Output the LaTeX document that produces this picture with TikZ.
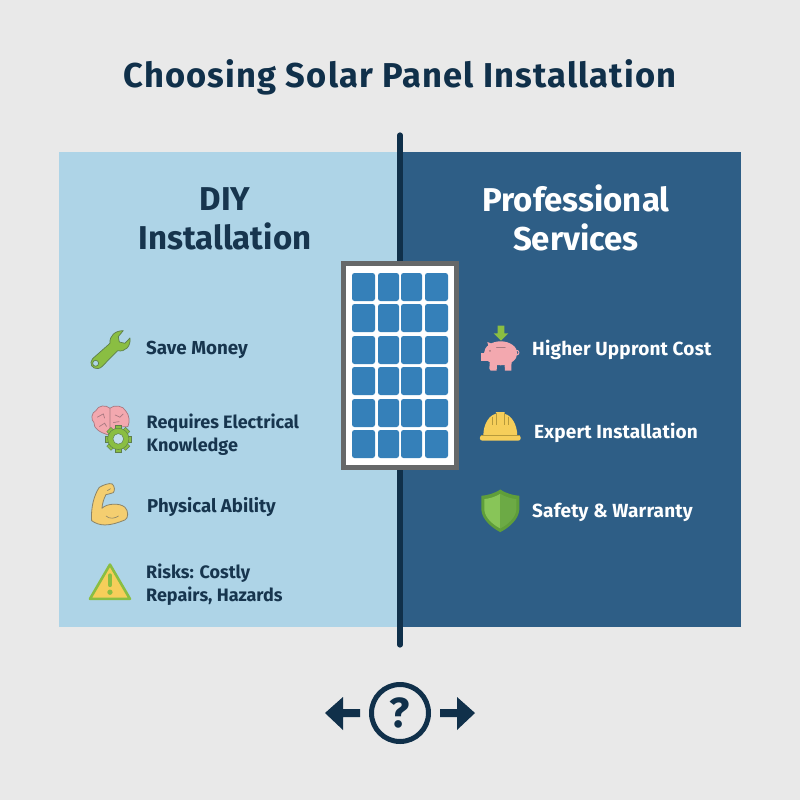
\documentclass[tikz,border=0pt]{standalone}
\usepackage{fontspec}
\setmainfont{Fira Sans}
\definecolor{bgc}{HTML}{E9E9E9}
\definecolor{inkc}{HTML}{10304A}
\definecolor{labc}{HTML}{17354E}
\definecolor{leftc}{HTML}{AED4E7}
\definecolor{rightc}{HTML}{2E5E86}
\definecolor{cellc}{HTML}{3580B9}
\definecolor{framec}{HTML}{666869}
\definecolor{leafc}{HTML}{8ABE42}
\definecolor{leafline}{HTML}{5E7F4C}
\definecolor{pinkc}{HTML}{F3A8AF}
\definecolor{pinkline}{HTML}{A87880}
\definecolor{yelc}{HTML}{F6CE5A}
\definecolor{armc}{HTML}{F4CE70}
\definecolor{armline}{HTML}{8B8468}
\definecolor{ribc}{HTML}{B79A3C}
\definecolor{shieldd}{HTML}{5F9E3A}
\definecolor{shieldm}{HTML}{6CAA45}
\definecolor{shieldl}{HTML}{88C558}
\tikzset{
  head/.style={font=\bfseries\fontsize{33}{38.5}\selectfont,align=center,inner sep=0pt},
  lab/.style={font=\bfseries\fontsize{18}{23}\selectfont,align=left,anchor=west,inner sep=0pt},
  labwide/.style={font=\bfseries\fontsize{18.6}{23}\selectfont,align=left,anchor=west,inner sep=0pt},
  dark/.style={lab,text=labc},
  darkwide/.style={labwide,text=labc},
  light/.style={font=\bfseries\fontsize{19}{23}\selectfont\addfontfeature{LetterSpace=1},align=left,anchor=west,inner sep=0pt,text=white},
  cell/.style={fill=cellc,rounded corners=2.5pt},
  zoomone/.style={shift={(70,310)},x=0.333pt,y=-0.333pt},
  zoomtwo/.style={shift={(70,470)},x=0.333pt,y=-0.333pt},
  zoomthree/.style={shift={(470,310)},x=0.333pt,y=-0.333pt},
}
\begin{document}
\begin{tikzpicture}[x=1pt,y=-1pt]
\useasboundingbox (0,0) rectangle (800,800);
\fill[bgc] (0,0) rectangle (800,800);
\fill[leftc] (59,152) rectangle (399,627);
\fill[rightc] (401,152) rectangle (741,627);
\draw[inkc,line width=5.2pt,line cap=round] (400,135) -- (400,645);

\node[font=\bfseries\fontsize{34.5}{38}\selectfont\addfontfeature{LetterSpace=3.3},text=inkc,inner sep=0pt] (title) at (400,77) {Choosing Solar Panel Installation};
\node[head,text=labc] (diy) at (225,219) {DIY\\Installation};
\node[head,text=white] (pro) at (576,218) {Professional\\Services};

% solar panel
\draw[framec,fill=white,line width=5pt] (343.5,263.5) rectangle (456.5,467.5);
\foreach \ya/\yb in {273/301,304/332,336/364,367/395,399/427,430/458}{
  \foreach \xa/\xb in {352/375,378/399,401/422,425/448}{
    \fill[cell] (\xa,\ya) rectangle (\xb,\yb);
  }
}

% wrench
\begin{scope}[zoomone]
\draw[fill=leafc,draw=leafline,line width=0.7pt,line join=round,even odd rule]
 (160,62) .. controls (135,62) and (118,78) .. (120,100) -- (68,146)
 .. controls (56,160) and (66,178) .. (84,176) .. controls (90,176) and (94,172) .. (98,168)
 -- (143,122) .. controls (165,128) and (184,108) .. (180,84) -- (165,100) -- (148,96) -- (145,80) -- cycle
 (77,160) circle[radius=9];
\end{scope}
\node[dark] (save) at (146,350) {\fontsize{18.8}{23}\selectfont Save Money};

% brain with gear
\begin{scope}[zoomone]
\draw[fill=pinkc,draw=pinkline,line width=0.7pt,line join=round]
 (120,295) .. controls (108,284) and (84,286) .. (78,302)
 .. controls (64,308) and (62,330) .. (72,338)
 .. controls (70,356) and (90,368) .. (118,376)
 -- (140,352) -- (174,350)
 .. controls (180,335) and (178,315) .. (168,304)
 .. controls (160,286) and (132,284) .. (120,295) -- cycle;
\draw[pinkline,line width=0.7pt]
 (120,295) -- (120,360)
 (82,322) -- (100,312) -- (104,325)
 (88,350) -- (104,340) -- (110,350)
 (135,315) -- (150,322) -- (160,312)
 (130,338) -- (148,335);
\foreach \a in {0,45,...,315}{
  \fill[leafc,draw=leafline,line width=0.4pt,rotate around={\a:(145,387)}] (136,347) rectangle (154,360);
}
\draw[fill=leafc,draw=leafline,line width=0.5pt] (145,387) circle[radius=32];
\draw[fill=leftc!75!white,draw=leafline,line width=0.5pt] (145,387) circle[radius=16];
\end{scope}
\node[dark] (know) at (146.5,435) {Requires Electrical\\Knowledge};

% flexed arm
\begin{scope}[zoomtwo]
\draw[fill=armc,draw=armline,line width=0.8pt,line join=round]
 (65,152) .. controls (62,115) and (72,75) .. (88,52) .. controls (100,45) and (118,38) .. (127,42)
 .. controls (135,50) and (135,62) .. (130,68) .. controls (122,72) and (112,72) .. (108,74)
 .. controls (102,85) and (97,100) .. (96,115) .. controls (110,100) and (150,98) .. (165,112)
 .. controls (176,122) and (176,145) .. (165,150) .. controls (145,158) and (125,165) .. (105,165)
 .. controls (90,165) and (75,160) .. (65,152) -- cycle;
\draw[armline,line width=0.6pt] (108,138) .. controls (118,148) and (135,146) .. (146,138)
 (112,62) -- (122,56);
\end{scope}
\node[darkwide] (phys) at (147,507.5) {Physical Ability};

% warning
\begin{scope}[zoomtwo]
\draw[fill=yelc,draw=leafc,line width=2.6pt,line join=round] (120,284) -- (180,387) -- (60,387) -- cycle;
\draw[leafc,line width=4.4pt,line cap=round] (120,317) -- (120,345);
\fill[leafc] (120,367) circle[radius=8];
\end{scope}
\node[dark] (risk) at (146,585) {Risks: Costly\\Repairs, Hazards};

% piggy bank
\begin{scope}[zoomthree]
\fill[leafc] (83,47) -- (103,47) -- (103,70) -- (115,70) -- (93,92) -- (71,70) -- (83,70) -- cycle;
\fill[pinkc] (58,176) -- (60,150) -- (82,150) -- (80,182) -- (62,182) -- cycle
 (105,182) -- (103,150) -- (125,150) -- (124,182) -- cycle;
\fill[pinkc] (52,96) -- (75,105) -- (60,125) -- cycle;
\fill[pinkc] (92,130) ellipse[x radius=50,y radius=36];
\fill[pinkc] (34,128) rectangle (60,152);
\draw[pinkc,line width=1pt] (140,128) circle[radius=7];
\draw[pinkline,line width=1.2pt,line cap=round] (80,112) -- (105,112);
\fill[pinkline] (60,123) circle[radius=3];
\end{scope}
\node[light] (cost) at (532,350) {Higher Uppront Cost};

% helmet
\begin{scope}[zoomthree]
\fill[yelc] (40,378) .. controls (40,340) and (60,314) .. (78,312) -- (78,307) -- (104,307) -- (104,312)
 .. controls (125,316) and (142,345) .. (142,378) -- cycle;
\fill[yelc,rounded corners=2pt] (30,377) rectangle (152,392);
\draw[ribc,line width=0.9pt] (66,320) -- (66,345) (78,310) -- (78,345) (104,310) -- (104,345) (116,320) -- (116,345) (32,378) -- (150,378);
\end{scope}
\node[light] (expert) at (534,433) {Expert Installation};

% shield
\begin{scope}[zoomthree]
\fill[shieldd] (91,539) .. controls (110,552) and (130,556) .. (148,558) -- (148,600)
 .. controls (146,630) and (115,655) .. (91,667) .. controls (67,655) and (36,630) .. (34,600) -- (34,558)
 .. controls (52,556) and (72,552) .. (91,539) -- cycle;
\fill[shieldl] (91,552) .. controls (75,562) and (58,566) .. (43,568) -- (43,600)
 .. controls (45,625) and (70,645) .. (91,656) -- cycle;
\fill[shieldm] (91,552) .. controls (107,562) and (124,566) .. (139,568) -- (139,600)
 .. controls (137,625) and (112,645) .. (91,656) -- cycle;
\end{scope}
\node[light] (safety) at (532,512) {Safety \& Warranty};

% question and arrows
\node[circle,draw=inkc,line width=5pt,minimum size=57pt,inner sep=0pt,text=inkc,font=\bfseries\fontsize{42}{42}\selectfont] (ask) at (400,713) {?};
\coordinate (lefttip) at (325,713);
\coordinate (righttip) at (475,713);
\fill[inkc] (lefttip) -- (343,697) -- (343,709) -- (360,709) -- (360,717) -- (343,717) -- (343,730) -- cycle;
\fill[inkc] (righttip) -- (457,697) -- (457,709) -- (440,709) -- (440,717) -- (457,717) -- (457,730) -- cycle;
\end{tikzpicture}
\end{document}
